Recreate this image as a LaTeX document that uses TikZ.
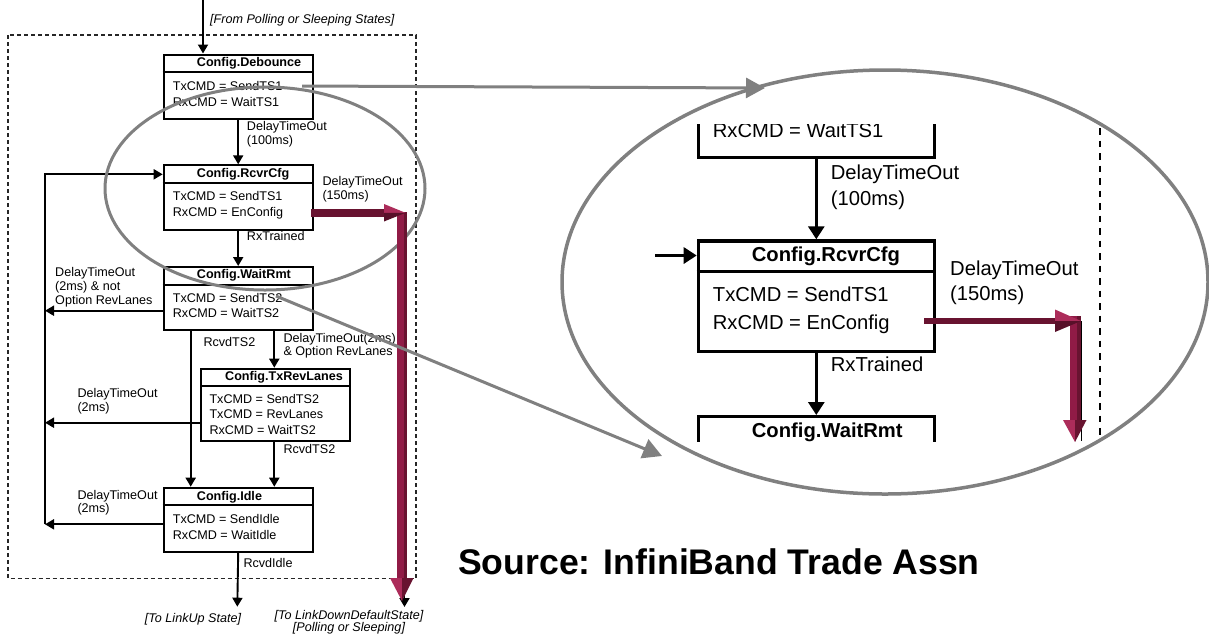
\documentclass[tikz,border=0pt]{standalone}
\usepackage{fontspec}
\setmainfont{Liberation Sans}
\usetikzlibrary{arrows.meta,shapes.geometric}
\definecolor{lensgray}{RGB}{128,128,128}
\definecolor{maroonmid}{RGB}{144,27,70}
\definecolor{maroondark}{RGB}{104,19,48}
\definecolor{maroonlight}{RGB}{172,44,90}

\begin{document}
\begin{tikzpicture}[x=1pt,y=-1pt,
  sbox/.style={draw, line width=2pt, fill=white, inner sep=0pt, minimum width=149pt, anchor=north west},
  sdiv/.style={line width=2pt},
  stitle/.style={font=\fontsize{12.6}{14}\selectfont\bfseries, inner sep=0pt, anchor=base west},
  sbody/.style={font=\fontsize{12.6}{15.7}\selectfont, inner sep=0pt, anchor=north west, align=left},
  slabel/.style={font=\fontsize{12.6}{13.8}\selectfont, inner sep=0pt, anchor=north west, align=left},
  sline/.style={font=\fontsize{12.6}{14}\selectfont, inner sep=0pt, anchor=base west},
  sarr/.style={line width=1.9pt, -{Triangle[length=9pt,width=10pt]}},
  bbox/.style={draw, line width=3.2pt, fill=white, inner sep=0pt, minimum width=236pt},
  btitle/.style={font=\fontsize{20.2}{24}\selectfont\bfseries, inner sep=0pt, anchor=base west},
  bline/.style={font=\fontsize{20.2}{24}\selectfont, inner sep=0pt, anchor=base west},
  bmulti/.style={font=\fontsize{20.2}{#1}\selectfont, inner sep=0pt, anchor=north west, align=left},
  barr/.style={line width=3pt, -{Triangle[length=13pt,width=16pt]}},
  lens/.style={draw=lensgray, ellipse, inner sep=0pt},
  garr/.style={draw=lensgray, line width=3pt, -{Triangle[length=19pt,width=20pt]}}
]
\useasboundingbox (0,0) rectangle (1209,633);

% ---------------- configuration sub-state machine ----------------
\draw[line width=1.4pt, black!85, dash pattern=on 4pt off 3pt] (8,35) rectangle (416,578.3);

\node[sbox, minimum height=64.8pt] (deb) at (162.7,53.5) {};
\node[sbox, minimum height=64.2pt] (rcv) at (162.7,164.3) {};
\node[sbox, minimum height=63.3pt] (wrm) at (162.7,266) {};
\node[sbox, minimum height=72.3pt, minimum width=149.3pt] (txr) at (200,367.7) {};
\node[sbox, minimum height=64pt] (idl) at (162.7,486.7) {};

\foreach \b in {deb,rcv,wrm,txr,idl}
  \draw[sdiv] ([yshift=-18.5pt]\b.north west) -- ([yshift=-18.5pt]\b.north east);

\node[stitle] (deb-title) at (196.7,66.3) {Config.Debounce};
\node[stitle] (rcv-title) at (196.7,177.3) {Config.RcvrCfg};
\node[stitle] (wrm-title) at (196.7,278.6) {Config.WaitRmt};
\node[stitle] (txr-title) at (225,380.3) {Config.TxRevLanes};
\node[stitle] (idl-title) at (196.7,500.3) {Config.Idle};

\node[sbody] (deb-body) at (172.7,81.4) {TxCMD = SendTS1\\RxCMD = WaitTS1};
\node[sbody] (rcv-body) at (172.7,191.4) {TxCMD = SendTS1\\RxCMD = EnConfig};
\node[sbody] (wrm-body) at (172.7,292.7) {TxCMD = SendTS2\\RxCMD = WaitTS2};
\node[sbody, font=\fontsize{12.6}{15.5}\selectfont] (txr-body) at (209.3,393.7) {TxCMD = SendTS2\\TxCMD = RevLanes\\RxCMD = WaitTS2};
\node[sbody] (idl-body) at (172.7,514.4) {TxCMD = SendIdle\\RxCMD = WaitIdle};

% entry, exits and transitions
\coordinate (entry) at (203,0);
\draw[sarr] (entry) -- (entry |- deb.north);
\node[sline, font=\fontsize{12.6}{14}\selectfont\itshape] (from-lbl) at (210,23.5) {[From Polling or Sleeping States]};

\draw[sarr] (deb.south) -- (rcv.north);
\node[slabel] (lbl-100) at (246.7,121.4) {DelayTimeOut\\(100ms)};

\draw[sarr] (rcv.south) -- (wrm.north);
\node[sline] (lbl-rxt) at (246.7,240) {RxTrained};

\coordinate (retTop) at (45,174.3);
\coordinate (retBot) at (45,524.3);
\draw[sarr] (retBot) -- (retTop) -- (retTop -| rcv.west);

\coordinate (wrmL) at (162.7,310.7);
\draw[sarr] (wrmL) -- (wrmL -| retTop);
\node[slabel] (lbl-not) at (55,267.1) {DelayTimeOut\\(2ms) \& not\\Option RevLanes};

\coordinate (wrmS1) at (190.7,329.3);
\draw[sarr] (wrmS1) -- (wrmS1 |- idl.north);
\node[sline] (lbl-ts2a) at (203.3,346.2) {RcvdTS2};

\coordinate (wrmS2) at (274.3,329.3);
\draw[sarr] (wrmS2) -- (wrmS2 |- txr.north);
\node[slabel] (lbl-opt) at (283.3,332.7) {DelayTimeOut(2ms)\\\& Option RevLanes};

\coordinate (txrL) at (200,422.7);
\draw[sarr] (txrL) -- (txrL -| retTop);
\node[slabel] (lbl-2a) at (77.3,388.1) {DelayTimeOut\\(2ms)};

\coordinate (txrS) at (274.3,440);
\draw[sarr] (txrS) -- (txrS |- idl.north);
\node[sline] (lbl-ts2b) at (283.3,453.8) {RcvdTS2};

\draw[sarr] (retBot -| idl.west) -- (retBot);
\node[slabel] (lbl-2b) at (77.3,489.7) {DelayTimeOut\\(2ms)};

\coordinate (linkup) at (237.3,606.7);
\draw[sarr] (idl.south) -- (linkup);
\node[sline] (lbl-idle) at (243.3,567.2) {RcvdIdle};
\node[font=\fontsize{12.6}{14}\selectfont\itshape, inner sep=0pt, anchor=base] (to-linkup) at (193,622.5) {[To LinkUp State]};

\coordinate (rcvOut) at (311.7,213);
\coordinate (ldTurn) at (404.5,213);
\coordinate (ldEnd) at (404.5,607);
\draw[sarr] (rcvOut) -- (ldTurn) -- (ldEnd);
\node[font=\fontsize{12.6}{12.3}\selectfont\itshape, inner sep=0pt, anchor=north, align=center] (to-linkdown) at (349,610.1) {[To LinkDownDefaultState]\\{}[Polling or Sleeping]};
\node[slabel] (lbl-150) at (322.3,176.1) {DelayTimeOut\\(150ms)};

% ---------------- lens over the RcvrCfg region ----------------
\node[lens, line width=3pt, minimum width=320pt, minimum height=203pt] (lens-small) at (265,188.5) {};

% highlighted timeout path (bevelled block arrows)
\fill[maroonmid] (397,212) rectangle (407,580);
\fill[maroondark] (404,212) rectangle (407,580);
\fill[maroonlight] (390,578) -- (402,578) -- (402,601) -- cycle;
\fill[maroondark] (402,578) -- (413.5,578) -- (402,601) -- cycle;
\fill[maroondark] (311,209.3) rectangle (386,217.3);
\fill[maroonlight] (384,204) -- (405.5,212.8) -- (384,212.8) -- cycle;
\fill[maroondark!85!black] (384,212.8) -- (405.5,212.8) -- (384,221.5) -- cycle;

% pointers to the magnified view
\coordinate (g1a) at (302,86);
\coordinate (g1b) at (765,88);
\coordinate (g2a) at (276,296);
\coordinate (g2b) at (662,456);
\draw[garr] (g1a) -- (g1b);
\draw[garr] (g2a) -- (g2b);

% ---------------- magnified view ----------------
\begin{scope}
\clip (655,124) rectangle (1110,441);
\node[bbox, minimum height=120pt, anchor=south west] (bdeb) at (696.7,159.3) {};
\node[bline] (bdeb-body) at (712.7,137.2) {RxCMD = WaitTS1};
\node[bbox, minimum height=110.7pt, anchor=north west] (brcv) at (696.7,239.3) {};
\draw[line width=3.2pt] ([yshift=-32.4pt]brcv.north west) -- ([yshift=-32.4pt]brcv.north east);
\node[btitle] (brcv-title) at (751.7,261.5) {Config.RcvrCfg};
\node[bmulti=27.4] (brcv-body) at (712.7,287) {TxCMD = SendTS1\\RxCMD = EnConfig};
\node[bbox, minimum height=80pt, anchor=north west] (bwrm) at (696.7,415) {};
\node[btitle] (bwrm-title) at (751.7,437.2) {Config.WaitRmt};

\draw[barr] (bdeb.south) -- (brcv.north);
\node[bmulti=26] (blbl-100) at (830.7,164.4) {DelayTimeOut\\(100ms)};
\draw[barr] (brcv.south) -- (bwrm.north);
\node[bline] (blbl-rxt) at (830.7,371.5) {RxTrained};
\coordinate (bin) at (655,255.5);
\draw[barr] (bin) -- (bin -| brcv.west);
\node[bmulti=24.4] (blbl-150) at (950,261) {DelayTimeOut\\(150ms)};

\coordinate (bdashTop) at (1100,128);
\coordinate (bdashBot) at (1100,441);
\draw[line width=2pt, dash pattern=on 6.5pt off 6pt] (bdashTop) -- (bdashBot);

\draw[line width=1.5pt] (1081.5,321) -- (1081.5,441);
\fill[maroonmid] (1069.5,316) rectangle (1080.5,424);
\fill[maroondark] (1077,316) rectangle (1080.5,424);
\fill[maroonlight] (1063,420) -- (1075,420) -- (1075,442) -- cycle;
\fill[maroondark] (1075,420) -- (1086.5,420) -- (1075,442) -- cycle;
\fill[maroondark] (924,318.3) rectangle (1058,324.3);
\fill[maroonlight] (1055,309.5) -- (1081,321) -- (1055,321) -- cycle;
\fill[maroondark!85!black] (1055,321) -- (1081,321) -- (1055,332) -- cycle;
\end{scope}

\node[lens, line width=3.5pt, minimum width=646pt, minimum height=424pt] (lens-big) at (885,282) {};

\node[font=\fontsize{35.6}{40}\selectfont\bfseries, inner sep=0pt, anchor=base west] (source) at (458,574) {Source: InfiniBand Trade Assn};
\end{tikzpicture}
\end{document}
